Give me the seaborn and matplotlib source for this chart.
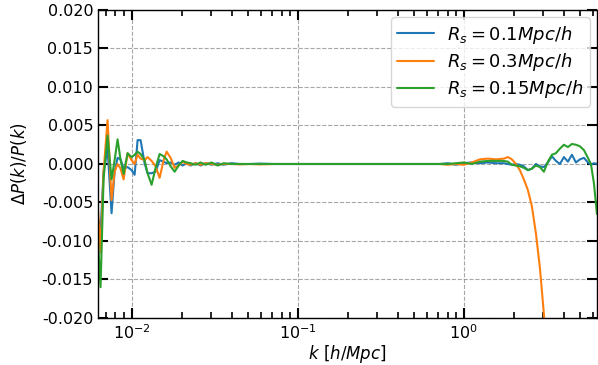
import numpy as np
import pandas as pd
import matplotlib
matplotlib.use("Agg")
import matplotlib.pyplot as plt
import seaborn as sns

k = [0.00628, 0.006504, 0.006782, 0.007167, 0.007577, 0.007903, 0.008236, 0.008587, 0.008951, 0.009461,
     0.01, 0.01043, 0.01087, 0.01133, 0.01198, 0.01248, 0.01320, 0.01395, 0.01475, 0.01559,
     0.01625, 0.01718, 0.01816, 0.01920, 0.02029, 0.02145, 0.02267, 0.02430, 0.02604, 0.02791,
     0.03033, 0.03296, 0.03582, 0.04003, 0.04473, 0.05139, 0.05904, 0.07268, 0.08949, 0.1181,
     0.1559, 0.2057, 0.2715, 0.3582, 0.4727, 0.5821, 0.7168, 0.8009, 0.8950, 1.0,
     1.117, 1.248, 1.395, 1.559, 1.742, 1.841, 1.946, 2.057, 2.174, 2.298,
     2.430, 2.568, 2.715, 2.870, 3.033, 3.206, 3.389, 3.582, 3.787, 4.003,
     4.231, 4.473, 4.727, 4.997, 5.283, 5.584, 5.821, 6.068, 6.326]

dp_rs01 = [-0.0070, -0.0088, -0.0010, 0.0020, -0.0064, -0.0010, 0.0008, 0.0006, -0.0006, -0.0004,
           -0.0008, -0.0014, 0.0031, 0.0031, 0.0001, -0.0012, -0.0012, -0.0010, 0.0005, 0.0003,
           0.0001, 0.0002, -0.0001, 0.0002, -0.0002, 0.0001, -0.0002, 0.0001, -0.0002, 0.0001,
           -0.0001, 0.0001, -0.0001, 0.0001, 0.0, 0.0, 0.00005, 0.0, 0.0, 0.0,
           0.0, 0.0, 0.0, 0.0, 0.0, 0.0, 0.0, 0.0001, -0.0001, 0.0001,
           0.0002, 0.0001, 0.0002, 0.0001, 0.0001, 0.0, -0.0001, 0.0, -0.0001, -0.0003,
           -0.0008, -0.0006, 0.0000, -0.0003, -0.0004, 0.0002, 0.0010, 0.0004, 0.0000, 0.0009,
           0.0003, 0.0012, 0.0002, 0.0006, 0.0008, 0.0002, -0.0001, 0.0001, 0.0]

dp_rs03 = [-0.0060, -0.0115, -0.0010, 0.0057, -0.0047, -0.0010, 0.0000, -0.0006, -0.0020, 0.0014,
           0.0005, 0.0000, 0.0012, 0.0007, 0.0005, 0.0009, 0.0004, -0.0003, -0.0018, 0.0005,
           0.0016, 0.0008, -0.0005, -0.0002, 0.0003, 0.0, -0.0001, 0.0001, -0.0001, 0.0001,
           0.0, -0.0001, 0.0, 0.0, -0.00005, 0.0, -0.00005, 0.0, 0.0, 0.0,
           0.0, 0.0, 0.0, 0.0, 0.0, 0.0, 0.0, -0.0001, 0.0, -0.0001,
           0.0002, 0.0006, 0.0007, 0.0006, 0.0007, 0.0009, 0.0006, 0.0000, -0.0008, -0.0020,
           -0.0034, -0.0055, -0.0090, -0.0135, -0.0195, -0.0270, -0.0360, -0.047, -0.060, -0.075,
           -0.092, -0.11, -0.13, -0.15, -0.17, -0.19, -0.21, -0.22, -0.23]

dp_rs015 = [-0.0100, -0.0160, -0.0020, 0.0037, -0.0020, 0.0005, 0.0032, 0.0005, -0.0013, 0.0014,
            0.0009, 0.0012, 0.0016, 0.0013, 0.0005, -0.0012, -0.0027, -0.0005, 0.0013, 0.0010,
            0.0006, -0.0003, -0.0010, -0.0002, 0.0004, 0.0002, 0.0001, -0.0001, 0.0002, -0.0001,
            0.0002, -0.0002, 0.0001, 0.0, 0.0, 0.0, 0.0, 0.0, 0.0, 0.0,
            0.0, 0.0, 0.0, 0.0, 0.0, 0.0, 0.0, 0.0, 0.0001, 0.0002,
            0.0, 0.0003, 0.0004, 0.0004, 0.0004, 0.0003, -0.0001, -0.0002, -0.0003, -0.0005,
            -0.0008, -0.0006, -0.0002, -0.0004, -0.0010, 0.0003, 0.0012, 0.0014, 0.0020, 0.0025,
            0.0022, 0.0026, 0.0025, 0.0023, 0.0018, 0.0008, 0.0000, -0.0025, -0.0065]

labels = [r"$R_s=0.1Mpc/h$", r"$R_s=0.3Mpc/h$", r"$R_s=0.15Mpc/h$"]
series = [dp_rs01, dp_rs03, dp_rs015]

frames = []
for lab, vals in zip(labels, series):
    frames.append(pd.DataFrame({"k": k, "dp": vals, "series": lab}))
df = pd.concat(frames, ignore_index=True)

sns.set_theme(style="ticks")
plt.rcParams['font.family'] = ['DejaVu Sans']
plt.rcParams['mathtext.fontset'] = 'dejavusans'
plt.rcParams['text.color'] = 'black'
plt.rcParams['axes.labelcolor'] = 'black'
plt.rcParams['xtick.color'] = 'black'
plt.rcParams['ytick.color'] = 'black'

fig = plt.figure(figsize=(5.98, 3.65), dpi=100)
ax = fig.add_axes([0.1639, 0.1288, 0.9983 - 0.1639, 0.9726 - 0.1288])

palette = ["#1f77b4", "#ff7f0e", "#2ca02c"]
sns.lineplot(data=df, x="k", y="dp", hue="series", hue_order=labels, palette=palette,
             estimator=None, sort=False, linewidth=1.5, ax=ax)

ax.set_xscale("log")
ax.set_xlim(0.00628, 6.33)
ax.set_ylim(-0.02, 0.02)
ax.set_yticks(np.arange(-0.02, 0.0201, 0.005))
ax.yaxis.set_major_formatter(matplotlib.ticker.FormatStrFormatter("%.3f"))

ax.grid(True, which="major", linestyle="--", color="gray", alpha=0.7, linewidth=0.8)
ax.tick_params(which="both", direction="in", top=True, right=True, labelsize=11.5,
               colors="black", labelcolor="black")
ax.tick_params(which="major", length=7, width=1.5)
ax.tick_params(which="minor", length=4, width=1.2)
for s in ax.spines.values():
    s.set_color("black")
    s.set_linewidth(1.0)

ax.set_xlabel(r"$k\ [h/Mpc]$", fontsize=12, labelpad=1, color="black")
ax.set_ylabel(r"$\Delta P(k)/P(k)$", fontsize=12, labelpad=9, color="black")

leg = ax.legend(loc="upper right", fontsize=13, frameon=True, handlelength=2.0,
                labelspacing=0.3, borderpad=0.35, handletextpad=0.72, borderaxespad=0.4)
leg.get_frame().set_edgecolor("#cccccc")
for t in leg.get_texts():
    t.set_color("black")

fig.savefig("out.png", dpi=100)
